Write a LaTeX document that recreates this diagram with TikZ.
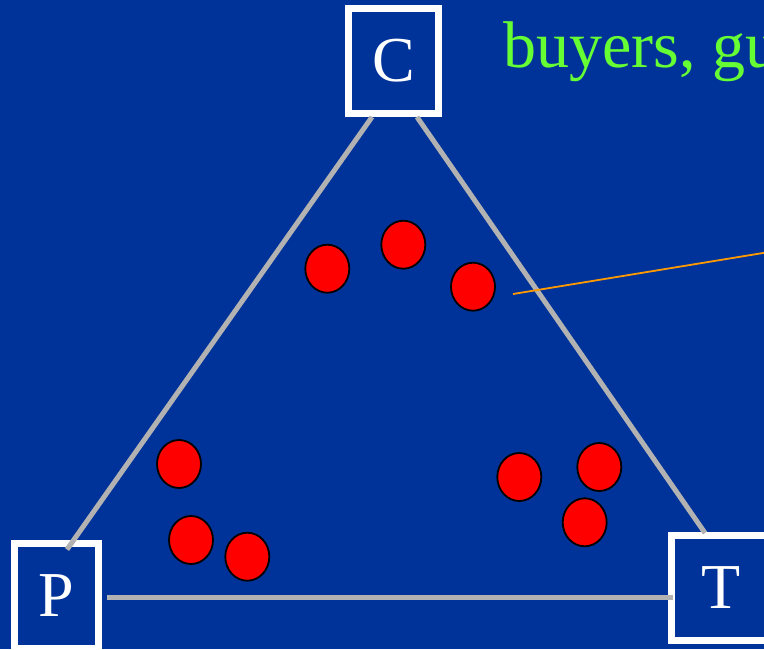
\documentclass[tikz,border=0pt]{standalone}
\usepackage{fontspec}
\setmainfont{Liberation Serif}
\usetikzlibrary{shapes.geometric,calc}
\definecolor{bgblue}{RGB}{0,51,153}
\definecolor{edgegrey}{RGB}{178,178,178}
\definecolor{labelgreen}{RGB}{102,255,51}
\definecolor{pointer}{RGB}{255,153,0}
\tikzset{
  corner/.style={draw=white, line width=7pt, fill=bgblue, minimum width=90pt, minimum height=105pt,
    inner sep=0pt, text=white, font=\fontsize{64}{68}\selectfont},
  edge/.style={draw=edgegrey, line width=5pt},
  dot/.style={ellipse, draw=black, line width=1.8pt, fill=red, minimum width=44pt, minimum height=48pt, inner sep=0pt},
  lbl/.style={text=labelgreen, font=\fontsize{66}{70}\selectfont, inner sep=0pt, anchor=base west}
}
\begin{document}
\begin{tikzpicture}[x=1pt,y=-1pt]
\fill[bgblue] (0,0) rectangle (764,649);
\useasboundingbox (0,0) rectangle (764,649);
\clip (0,0) rectangle (764,649);
% corner boxes
\node[corner] (C) at (393.5,61) {C};
\node[corner, minimum width=84pt] (P) at (56.5,595.5) {P};
\node[corner, minimum width=100pt] (T) at (721.5,588) {T};
% label
\node[lbl] (L) at (503,67) {buyers, gu};
% edges
\draw[edge] ($(C.south)+(-21.5,0)$) -- ($(P.north)+(10.5,10)$);
\draw[edge] ($(C.south)+(23.5,0)$) -- ($(T.north)+(-16.5,1)$);
\draw[edge] ($(P.east)+(5,1.5)$) -- ($(T.west)+(5,9)$);
% dots
\node[dot] (d1) at (327.3,268.7) {};
\node[dot] (d2) at (403.3,244.7) {};
\node[dot] (d3) at (473,286.7) {};
\node[dot] (d4) at (179,464) {};
\node[dot] (d5) at (191,540) {};
\node[dot] (d6) at (247.3,556.7) {};
\node[dot] (d7) at (519.3,477) {};
\node[dot] (d8) at (599.3,467) {};
\node[dot] (d9) at (584.7,522.3) {};
% pointer
\coordinate (ps) at (513,294);
\coordinate (pe) at (766,252.5);
\draw[pointer, line width=1.8pt] (ps) -- (pe);
\end{tikzpicture}
\end{document}
